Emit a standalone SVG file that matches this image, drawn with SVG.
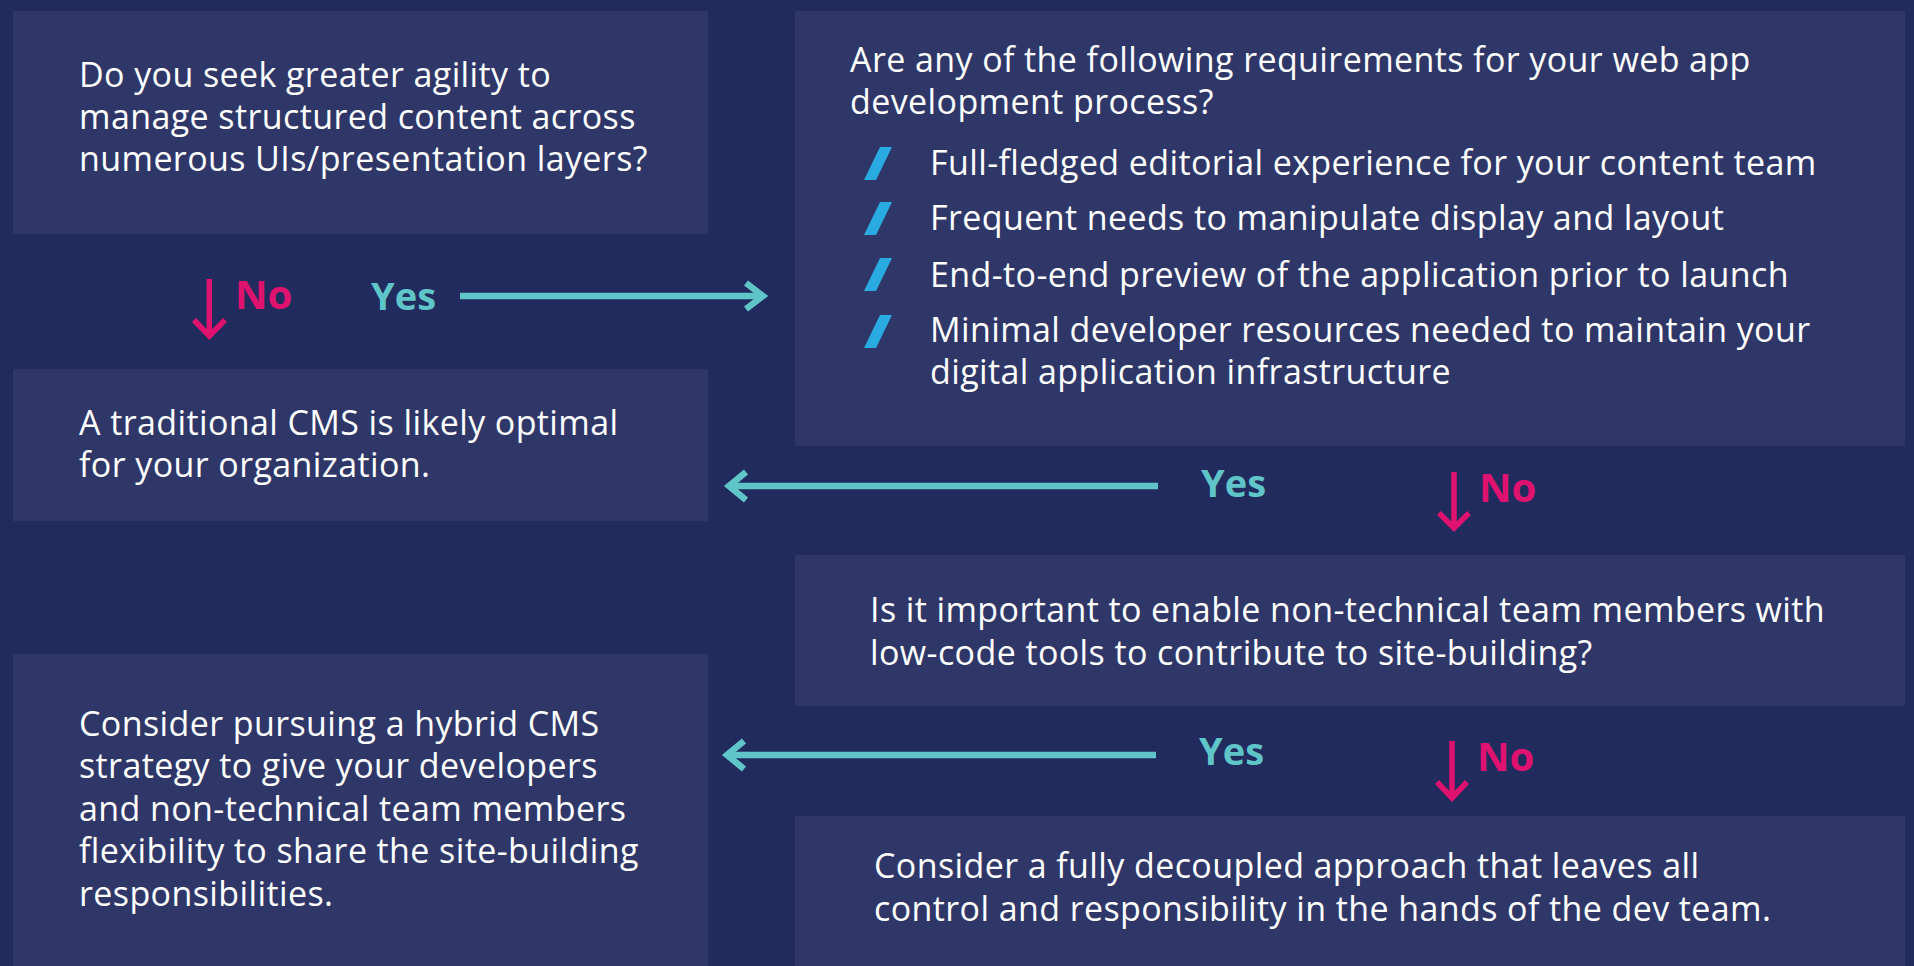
<svg xmlns="http://www.w3.org/2000/svg" width="1914" height="966" viewBox="0 0 1914 966">
<style>
.box{fill:#2f3769}
.t{font-family:"Open Sans","Liberation Sans",sans-serif;font-size:34px;letter-spacing:0.4px;fill:#ffffff}
.yes{font-family:"Open Sans","Liberation Sans",sans-serif;font-weight:bold;font-size:38px;fill:#5fc5c8}
.no{font-family:"Open Sans","Liberation Sans",sans-serif;font-weight:bold;font-size:40px;fill:#e0126f}
.ty{stroke:#5fc5c8;stroke-width:6.5;fill:none;stroke-linejoin:miter}
.tn{stroke:#e0126f;stroke-width:5.5;fill:none;stroke-linejoin:miter}
.bul{fill:#29abe2}
</style>
<rect x="0" y="0" width="1914" height="966" fill="#222b5e"/>
<g id="q1">
<rect class="box" x="13" y="11" width="695" height="223"/>
<text class="t" x="79" y="87">Do you seek greater agility to</text>
<text class="t" x="79" y="129">manage structured content across</text>
<text class="t" x="79" y="171">numerous UIs/presentation layers?</text>
</g>
<g id="q2">
<rect class="box" x="795" y="11" width="1110" height="435"/>
<text class="t" x="850" y="72">Are any of the following requirements for your web app</text>
<text class="t" x="850" y="114">development process?</text>
<polygon class="bul" points="880,147 892,147 876,180 864,180"/>
<text class="t" x="930" y="175">Full-fledged editorial experience for your content team</text>
<polygon class="bul" points="880,202 892,202 876,235 864,235"/>
<text class="t" x="930" y="230">Frequent needs to manipulate display and layout</text>
<polygon class="bul" points="880,258 892,258 876,291 864,291"/>
<text class="t" x="930" y="287">End-to-end preview of the application prior to launch</text>
<polygon class="bul" points="880,315 892,315 876,348 864,348"/>
<text class="t" x="930" y="342">Minimal developer resources needed to maintain your</text>
<text class="t" x="930" y="384">digital application infrastructure</text>
</g>
<g id="r1">
<rect class="box" x="13" y="369" width="695" height="152"/>
<text class="t" x="79" y="435">A traditional CMS is likely optimal</text>
<text class="t" x="79" y="477">for your organization.</text>
</g>
<g id="q3">
<rect class="box" x="795" y="555" width="1110" height="151"/>
<text class="t" x="870" y="622">Is it important to enable non-technical team members with</text>
<text class="t" x="870" y="665">low-code tools to contribute to site-building?</text>
</g>
<g id="r2">
<rect class="box" x="13" y="654" width="695" height="312"/>
<text class="t" x="79" y="736">Consider pursuing a hybrid CMS</text>
<text class="t" x="79" y="778">strategy to give your developers</text>
<text class="t" x="79" y="821">and non-technical team members</text>
<text class="t" x="79" y="863">flexibility to share the site-building</text>
<text class="t" x="79" y="906">responsibilities.</text>
</g>
<g id="r3">
<rect class="box" x="795" y="816" width="1110" height="150"/>
<text class="t" x="874" y="878">Consider a fully decoupled approach that leaves all</text>
<text class="t" x="874" y="921">control and responsibility in the hands of the dev team.</text>
</g>
<g id="connectors">
<line class="tn" x1="209.3" y1="279" x2="209.3" y2="336"/>
<polyline class="tn" points="194,320 209.3,336 225,320"/>
<text class="no" x="235" y="309">No</text>
<text class="yes" x="371" y="310">Yes</text>
<line class="ty" x1="460" y1="296" x2="762" y2="296"/>
<polyline class="ty" points="746,283 763,296 746,309"/>

<line class="ty" x1="729" y1="486" x2="1158" y2="486"/>
<polyline class="ty" points="746,472 729,486 746,500"/>
<text class="yes" x="1201" y="497">Yes</text>
<line class="tn" x1="1454" y1="472" x2="1454" y2="528"/>
<polyline class="tn" points="1439,513 1454,528 1469,513"/>
<text class="no" x="1479" y="502">No</text>

<line class="ty" x1="727" y1="755" x2="1156" y2="755"/>
<polyline class="ty" points="744,741 727,755 744,769"/>
<text class="yes" x="1199" y="765">Yes</text>
<line class="tn" x1="1452" y1="741" x2="1452" y2="798"/>
<polyline class="tn" points="1437,782 1452,798 1467,782"/>
<text class="no" x="1477" y="771">No</text>
</g>
</svg>
